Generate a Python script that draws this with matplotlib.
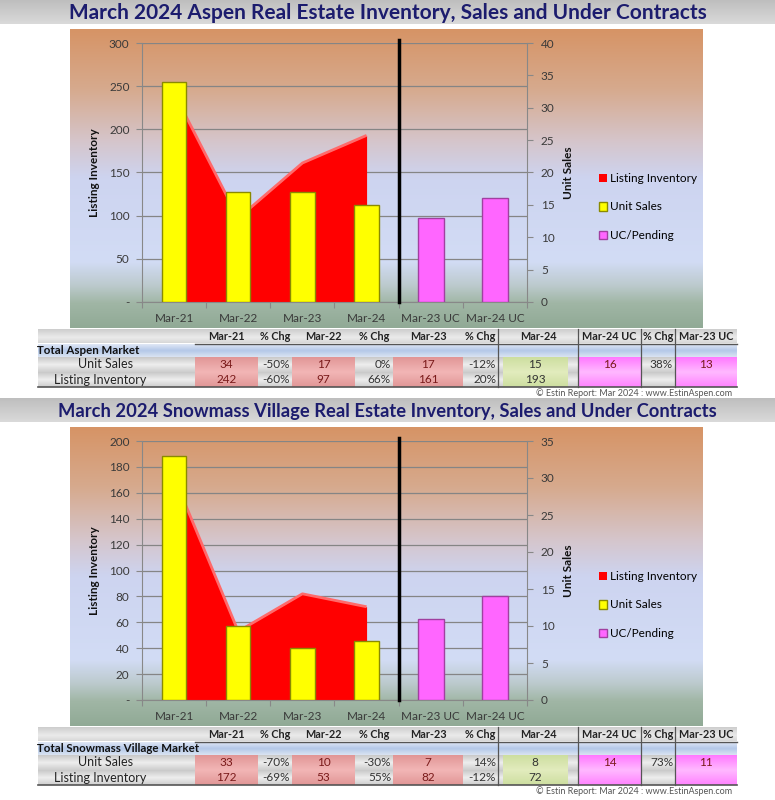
import numpy as np
import matplotlib.pyplot as plt
from matplotlib.ticker import FuncFormatter

W, H = 775, 800
FONT = ["Lato", "DejaVu Sans"]
plt.rcParams["font.family"] = FONT

categories = ["Mar-21", "Mar-22", "Mar-23", "Mar-24", "Mar-23 UC", "Mar-24 UC"]

aspen_inventory = [242, 97, 161, 193]
aspen_sales = [34, 17, 17, 15]
aspen_uc = [13, 16]
aspen_sales_chg = ["-50%", "0%", "-12%"]
aspen_inv_chg = ["-60%", "66%", "20%"]
aspen_uc_chg = "38%"

snow_inventory = [172, 53, 82, 72]
snow_sales = [33, 10, 7, 8]
snow_uc = [11, 14]
snow_sales_chg = ["-70%", "-30%", "14%"]
snow_inv_chg = ["-69%", "55%", "-12%"]
snow_uc_chg = "73%"

table_cols = ["Mar-21", "% Chg", "Mar-22", "% Chg", "Mar-23", "% Chg",
              "Mar-24", "Mar-24 UC", "% Chg", "Mar-23 UC"]
col_edges = [195, 258, 292, 355, 393, 463, 498, 578, 641, 675, 737]


def fx(x):
    return x / W


def fy(y):
    return 1 - y / H


def vgrad(ax, x0, x1, y0, y1, stops, zorder=1):
    t = np.linspace(0, 1, 128)
    pos = [s[0] for s in stops]
    cols = np.array([s[1] for s in stops]) / 255
    arr = np.stack([np.interp(t, pos, cols[:, k]) for k in range(3)], axis=-1)[:, None, :]
    ax.imshow(arr, extent=(x0, x1, y1, y0), origin="upper", aspect="auto",
              interpolation="bilinear", zorder=zorder)


panel_stops = [(0, (214, 148, 102)), (0.2, (215, 170, 142)), (0.38, (213, 198, 205)),
               (0.5, (205, 212, 240)), (0.78, (210, 220, 245)), (0.86, (188, 202, 205)),
               (0.92, (160, 182, 165)), (1.0, (145, 170, 150))]
gray_row = [(0, (200, 200, 200)), (0.5, (238, 238, 238)), (1, (205, 205, 205))]
blue_row = [(0, (225, 232, 245)), (0.5, (180, 200, 232)), (1, (218, 228, 242))]
red_cell = [(0, (225, 150, 150)), (0.5, (242, 182, 182)), (1, (225, 150, 150))]
green_cell = [(0, (205, 222, 160)), (0.5, (226, 236, 190)), (1, (205, 222, 160))]
pink_cell = [(0, (255, 120, 255)), (0.5, (255, 185, 255)), (1, (255, 130, 255))]

fig = plt.figure(figsize=(W / 100, H / 100), dpi=100)
bg = fig.add_axes([0, 0, 1, 1])
bg.set_autoscale_on(False)
bg.set_xlim(0, W)
bg.set_ylim(H, 0)
bg.axis("off")


def draw_block(off, title, title_size, market, inv, sales, uc, sales_chg, inv_chg,
               uc_chg, left_max, left_step, right_max):
    # title bar
    vgrad(bg, 0, W, off, off + 24, [(0, (190, 190, 190)), (1, (218, 218, 218))])
    bg.text(W / 2, off + 13, title, ha="center", va="center", fontsize=title_size,
            fontweight="bold", color="#1c1c6e")
    # panel background
    vgrad(bg, 70, 703, off + 29, off + 328, panel_stops)

    ax1 = fig.add_axes([fx(142), fy(302 + off), (527 - 142) / W, (302 - 43) / H])
    ax1.set_facecolor("none")
    x = np.arange(len(inv))
    ax1.fill_between(x, inv, 0, color="#ff0000", lw=0, zorder=1,
                     label="Listing Inventory")
    ax1.plot(x, inv, color="#ff6a6a", lw=2, zorder=1.5, solid_capstyle="butt")
    ax1.set_ylim(0, left_max)
    ax1.set_yticks(np.arange(0, left_max + 1, left_step))
    ax1.yaxis.set_major_formatter(FuncFormatter(lambda v, _: "-" if v == 0 else f"{v:.0f}"))
    ax1.set_xlim(-0.5, len(categories) - 0.5)
    ax1.set_xticks(np.arange(-0.5, len(categories), 1.0))
    ax1.set_xticklabels([])
    ax1.set_xticks(np.arange(len(categories)), minor=True)
    ax1.set_xticklabels(categories, minor=True)
    ax1.tick_params(axis="x", which="major", length=4, color="#888888")
    ax1.tick_params(axis="x", which="minor", length=0, pad=8, labelsize=8.5,
                    labelcolor="#3a3a3a")
    ax1.tick_params(axis="y", length=4, color="#888888", labelsize=8.5,
                    labelcolor="#3a3a3a", pad=5)
    ax1.yaxis.grid(True, color="#858585", lw=0.9)
    ax1.set_axisbelow(True)
    for s in ["top", "right"]:
        ax1.spines[s].set_visible(False)
    for s in ["left", "bottom"]:
        ax1.spines[s].set_color("#888888")

    ax2 = ax1.twinx()
    b1 = ax2.bar(x, sales, width=0.38, color="#ffff00", edgecolor="#8a8a00", lw=1,
                 label="Unit Sales", zorder=3)
    b2 = ax2.bar(np.arange(len(sales), len(categories)), uc, width=0.4, color="#ff66ff",
                 edgecolor="#a040a0", lw=1, label="UC/Pending", zorder=3)
    ax2.axvline(len(sales) - 0.5, ymin=0, ymax=1.012, color="black", lw=2.5,
                clip_on=False, zorder=4)
    ax2.set_ylim(0, right_max)
    ax2.set_yticks(np.arange(0, right_max + 1, 5))
    ax2.tick_params(axis="y", length=4, color="#888888", labelsize=8.5,
                    labelcolor="#3a3a3a", pad=6)
    for s in ["top", "left", "bottom"]:
        ax2.spines[s].set_visible(False)
    ax2.spines["right"].set_color("#888888")

    fig.text(fx(95), fy(173 + off), "Listing Inventory", rotation=90, ha="center",
             va="center", fontsize=8.5, fontweight="bold", color="#111111")
    fig.text(fx(568), fy(173 + off), "Unit Sales", rotation=90, ha="center",
             va="center", fontsize=8.5, fontweight="bold", color="#111111")

    handles = [ax1.collections[0], b1.patches[0], b2.patches[0]]
    ax2.legend(handles, ["Listing Inventory", "Unit Sales", "UC/Pending"],
               loc="center left", bbox_to_anchor=(fx(588), fy(207 + off)),
               bbox_transform=fig.transFigure, frameon=False, fontsize=8.5,
               handlelength=0.7, handleheight=0.7, handletextpad=0.3,
               labelspacing=1.5)

    # table
    t0 = off + 329
    vgrad(bg, 38, 737, t0, t0 + 14, [(0, (205, 205, 205)), (0.6, (235, 235, 235)),
                                     (1, (215, 215, 215))])
    vgrad(bg, 38, 737, t0 + 15, t0 + 28, blue_row)
    vgrad(bg, 38, 737, t0 + 28, t0 + 43, gray_row)
    vgrad(bg, 38, 737, t0 + 43, t0 + 58, gray_row)
    for i in (0, 2, 4):
        vgrad(bg, col_edges[i], col_edges[i + 1], t0 + 28, t0 + 58, red_cell, zorder=2)
    vgrad(bg, 503, 568, t0 + 28, t0 + 58, green_cell, zorder=2)
    for i in (7, 9):
        vgrad(bg, col_edges[i], col_edges[i + 1], t0 + 28, t0 + 58, pink_cell, zorder=2)
    bg.plot([195, 737], [t0 + 14.5, t0 + 14.5], color="#555555", lw=1, zorder=3)
    bg.plot([38, 737], [t0 + 58, t0 + 58], color="#555555", lw=1.2, zorder=3)
    for xe in (498, 578, 641, 675):
        bg.plot([xe, xe], [t0, t0 + 58], color="#555555", lw=0.9, zorder=3)

    for i, name in enumerate(table_cols):
        cx = (col_edges[i] + col_edges[i + 1]) / 2
        bg.text(cx, t0 + 7.5, name, ha="center", va="center", fontsize=7.8,
                fontweight="bold", color="#222222", zorder=4)
    bg.text(37, t0 + 21.5, f"Total {market} Market", ha="left", va="center",
            fontsize=8.3, fontweight="bold", color="#111111", zorder=4)
    bg.text(105, t0 + 35.5, "Unit Sales", ha="center", va="center", fontsize=9,
            color="#222222", zorder=4)
    bg.text(100, t0 + 50.5, "Listing Inventory", ha="center", va="center",
            fontsize=9, color="#222222", zorder=4)

    row_sales = [sales[0], sales_chg[0], sales[1], sales_chg[1], sales[2], sales_chg[2],
                 sales[3], uc[1], uc_chg, uc[0]]
    row_inv = [inv[0], inv_chg[0], inv[1], inv_chg[1], inv[2], inv_chg[2], inv[3],
               "", "", ""]
    for ry, row in ((t0 + 35.5, row_sales), (t0 + 50.5, row_inv)):
        for i, v in enumerate(row):
            if v == "":
                continue
            if isinstance(v, str):
                bg.text(col_edges[i + 1] - 2, ry, v, ha="right", va="center",
                        fontsize=8.5, color="#333333", zorder=4)
            else:
                cx = (col_edges[i] + col_edges[i + 1]) / 2
                if i == 6:
                    cx = 535
                bg.text(cx, ry, str(v), ha="center", va="center", fontsize=8.5,
                        color="#7a1a1a" if i != 6 else "#333333", zorder=4)
    bg.text(732, off + 393, "\u00a9 Estin Report: Mar 2024 : www.EstinAspen.com",
            ha="right", va="center", fontsize=6.5, color="#555555", zorder=4)


draw_block(0, "March 2024 Aspen Real Estate Inventory, Sales and Under Contracts", 15,
           "Aspen", aspen_inventory, aspen_sales, aspen_uc, aspen_sales_chg,
           aspen_inv_chg, aspen_uc_chg, 300, 50, 40)
draw_block(398, "March 2024 Snowmass Village Real Estate Inventory, Sales and Under Contracts",
           13.2, "Snowmass Village", snow_inventory, snow_sales, snow_uc, snow_sales_chg,
           snow_inv_chg, snow_uc_chg, 200, 20, 35)

fig.savefig("out.png", dpi=100)
